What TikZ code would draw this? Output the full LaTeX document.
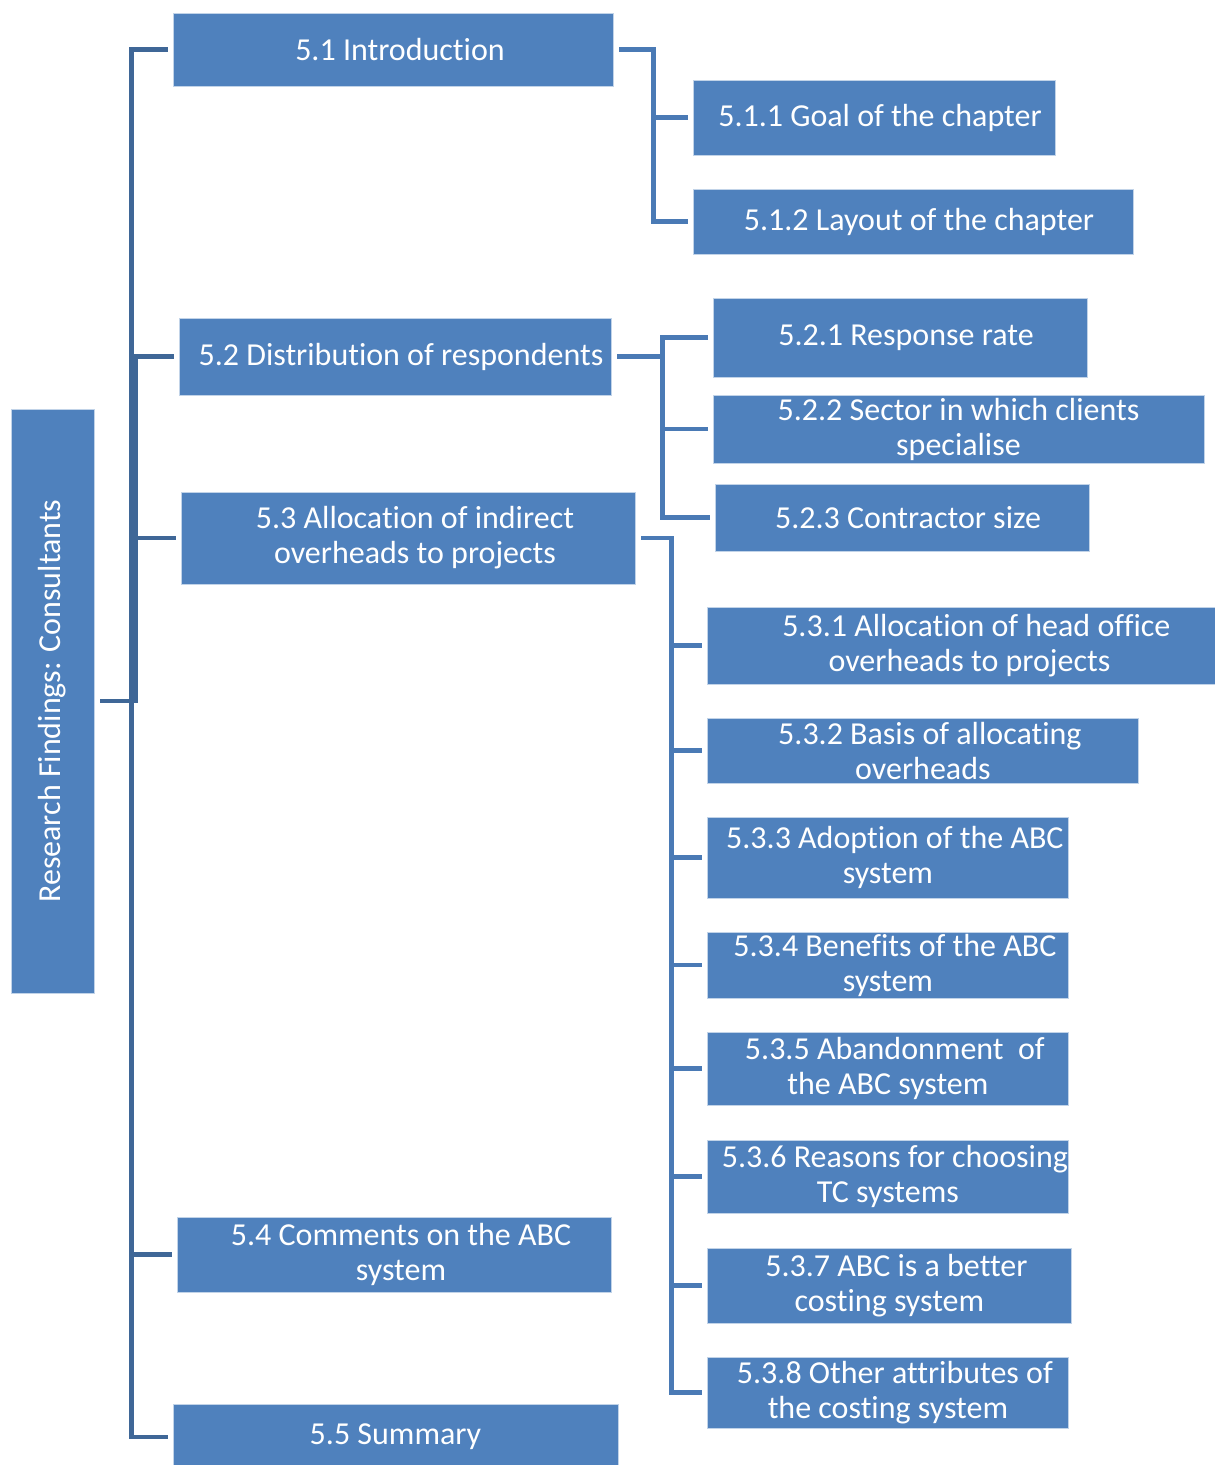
\documentclass[tikz,border=0pt]{standalone}
\usepackage{fontspec}
\setmainfont[RawFeature={-liga;-clig;-calt;-dlig}]{Carlito}
\definecolor{boxblue}{HTML}{4F81BD}
\definecolor{trunkblue}{HTML}{3F6797}
\definecolor{branchblue}{HTML}{4A7AB5}
\begin{document}
\begin{tikzpicture}[x=1pt, y=-1pt,
    box/.style={rectangle, fill=boxblue, draw=white!65!boxblue, line width=0.8pt,
              text=white, inner sep=0pt, align=center,
              font=\fontsize{32}{35}\selectfont},
    trunk/.style={draw=trunkblue, line width=4.5pt, shorten <=6pt, shorten >=5pt},
    branch/.style={draw=branchblue, line width=4.5pt, shorten <=6pt, shorten >=5pt}]
    \useasboundingbox (0,0) rectangle (1215,1465);
    \node[box, rotate=90, minimum width=584, minimum height=83] (root) at (52.5,701)
        {Research Findings: Consultants};
    \node[box, minimum width=440, minimum height=73] (s51) at (393,49.5) {\hspace{14pt}5.1 Introduction};
    \node[box, minimum width=432, minimum height=77] (s52) at (395,356.5) {\hspace{12pt}5.2 Distribution of respondents};
    \node[box, minimum width=454, minimum height=92] (s53) at (408,538)
        {\hspace{14pt}5.3 Allocation of indirect\\\hspace{14pt}overheads to projects};
    \node[box, minimum width=434, minimum height=75] (s54) at (394,1254.5)
        {\hspace{14pt}5.4 Comments on the ABC\\\hspace{14pt}system};
    \node[box, minimum width=445, minimum height=66] (s55) at (395.5,1437) {5.5 Summary};
    \node[box, minimum width=362, minimum height=75] (s511) at (874,117.5) {\hspace{12pt}5.1.1 Goal of the chapter};
    \node[box, minimum width=440, minimum height=65] (s512) at (913,221.5) {\hspace{12pt}5.1.2 Layout of the chapter};
    \node[box, minimum width=374, minimum height=79] (s521) at (900,337.5) {\hspace{12pt}5.2.1 Response rate};
    \node[box, minimum width=491, minimum height=68] (s522) at (958.5,429)
        {5.2.2 Sector in which clients\\specialise};
    \node[box, minimum width=374, minimum height=67] (s523) at (902,517.5) {\hspace{12pt}5.2.3 Contractor size};
    \foreach \i/\y/\w/\h/\t in {
        1/645.5/524/77/{5.3.1 Allocation of head office\\overheads to projects},
        2/750.5/431/65/{5.3.2 Basis of allocating\\overheads},
        3/857.5/361/81/{5.3.3 Adoption of the ABC\\system},
        4/965/361/66/{5.3.4 Benefits of the ABC\\system},
        5/1068.5/361/73/{5.3.5 Abandonment\ \ of\\the ABC system},
        6/1176.5/361/73/{5.3.6 Reasons for choosing\\TC systems},
        7/1285.5/364/75/{5.3.7 ABC is a better\\costing system},
        8/1392.5/361/71/{5.3.8 Other attributes of\\the costing system}}{
        \node[box, anchor=west, minimum width=\w, minimum height=\h] (s53\i) at (707,\y)
            {\hspace{14pt}\t};
        \draw[branch] (s53.east) -- ++(36,0) |- (s53\i.west);
    };
    \foreach \c/\dx in {s51/37,s52/41,s53/41,s54/37,s55/37}
        \draw[trunk] (root.south) -- ++(\dx,0) |- (\c.west);
    \draw[branch] (s51.east) -- ++(40,0) |- (s511.west);
    \draw[branch] (s51.east) -- ++(40,0) |- (s512.west);
    \draw[branch] (s52.east) -- ++(51,0) |- (s521.west);
    \draw[branch] (s52.east) -- ++(51,0) |- (s522.west);
    \draw[branch] (s52.east) -- ++(51,0) |- (s523.west);
\end{tikzpicture}
\end{document}
